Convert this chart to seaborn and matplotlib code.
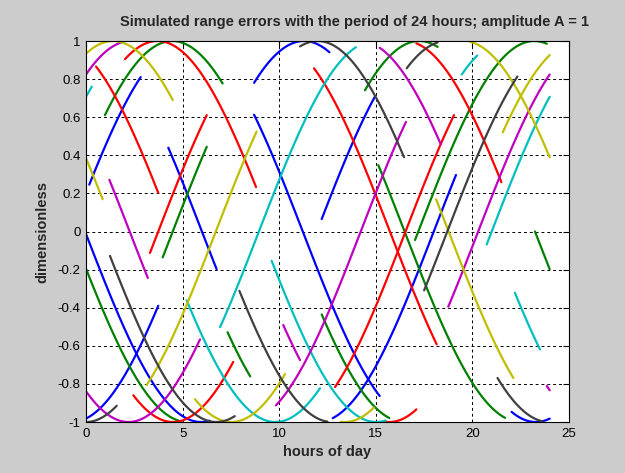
import numpy as np
import pandas as pd
import matplotlib
matplotlib.use("Agg")
import matplotlib.pyplot as plt
import seaborn as sns
from matplotlib.ticker import FuncFormatter

# Range-error model: A * cos(2*pi*(t - t_peak)/PERIOD), drawn over each pass window
PERIOD = 24.0
AMPLITUDE = 1.0

# One entry per pass: colour key, start hour, end hour, hour of the peak
seg_color = [
    "b", "b", "b", "b", "b", "b", "b", "b", "b",
    "g", "g", "g", "g", "g", "g", "g", "g", "g",
    "r", "r", "r", "r", "r", "r", "r", "r",
    "c", "c", "c", "c", "c", "c", "c",
    "m", "m", "m", "m", "m", "m", "m", "m",
    "y", "y", "y", "y", "y", "y", "y", "y",
    "k", "k", "k", "k", "k", "k", "k",
]
seg_start = [
    0.17, 8.70, 4.26, 12.77, 0.00, 12.20, 0.00, 8.70, 22.03,
    0.98, 12.20, 3.97, 15.13, 14.44, 0.00, 23.24, 17.03, 7.33,
    0.52, 12.89, 2.02, 15.50, 3.31, 11.80, 17.10, 2.45,
    0.00, 9.61, 6.94, 22.20, 19.45, 20.74, 5.21,
    0.00, 10.21, 1.21, 9.83, 15.20, 0.00, 23.85, 18.75,
    0.00, 13.20, 0.00, 5.64, 3.14, 18.12, 19.88, 21.57,
    11.08, 0.00, 21.30, 16.60, 1.24, 17.50, 7.94,
]
seg_end = [
    2.83, 15.20, 6.76, 19.15, 6.40, 14.96, 3.74, 12.60, 24.00,
    7.07, 15.70, 6.25, 21.69, 18.20, 4.90, 24.00, 23.85, 8.50,
    3.74, 19.05, 8.80, 17.10, 6.25, 18.15, 21.50, 7.62,
    0.30, 15.50, 13.97, 23.50, 20.25, 24.00, 12.11,
    1.90, 11.08, 3.20, 16.56, 18.36, 5.90, 24.00, 24.00,
    4.49, 14.90, 0.86, 10.30, 8.83, 22.12, 24.00, 24.00,
    16.46, 1.59, 23.60, 18.20, 7.70, 22.33, 12.50,
]
seg_peak = [
    5.22, 5.22, 0.00, 24.00, -6.05, 17.95, 11.27, 11.28, 11.28,
    4.47, 4.48, 10.49, 10.49, 17.25, -6.75, 17.24, 23.20, -0.80,
    -1.48, 22.54, 3.70, 3.70, 9.74, 9.73, 16.50, 16.50,
    3.00, 3.02, 14.95, 14.95, 21.75, 27.00, -2.20,
    2.30, 2.25, -3.74, 20.22, 14.18, 14.20, 14.24, 26.30,
    1.40, 1.40, -4.49, -4.47, 12.72, 12.77, 19.53, 25.48,
    11.99, 12.00, 11.95, 18.67, -5.25, 24.70, 0.73,
]

color_map = {
    "b": (0.0, 0.0, 1.0),
    "g": (0.0, 0.5, 0.0),
    "r": (1.0, 0.0, 0.0),
    "c": (0.0, 0.75, 0.75),
    "m": (0.75, 0.0, 0.75),
    "y": (0.75, 0.75, 0.0),
    "k": (0.25, 0.25, 0.25),
}

x_ticks = [0, 5, 10, 15, 20, 25]
y_ticks = [-1, -0.8, -0.6, -0.4, -0.2, 0, 0.2, 0.4, 0.6, 0.8, 1]

rows = []
for i, (c, t0, t1, tp) in enumerate(zip(seg_color, seg_start, seg_end, seg_peak)):
    t = np.linspace(t0, t1, 80)
    y = AMPLITUDE * np.cos(2 * np.pi * (t - tp) / PERIOD)
    rows.append(pd.DataFrame({"hour": t, "value": y, "seg": i}))
df = pd.concat(rows, ignore_index=True)
palette = {i: color_map[c] for i, c in enumerate(seg_color)}

sns.set_theme(style="white")
plt.rcParams["font.family"] = ["Liberation Sans", "DejaVu Sans"]

bg = (0.8, 0.8, 0.8)
fig = plt.figure(figsize=(6.25, 4.73), dpi=100, facecolor=bg)
ax = fig.add_axes([0.1376, 0.1078, 0.7728, 0.8055])
ax.set_facecolor("white")

sns.lineplot(data=df, x="hour", y="value", hue="seg", units="seg",
             estimator=None, sort=False, palette=palette, legend=False,
             linewidth=1.6, ax=ax)

ax.set_xlim(0, 25)
ax.set_ylim(-1, 1)
ax.set_xticks(x_ticks)
ax.set_yticks(y_ticks)
ax.yaxis.set_major_formatter(FuncFormatter(lambda v, p: "%g" % round(v, 1)))
ax.grid(True, color="black", linestyle=(0, (3, 3)), linewidth=0.7)
ax.set_axisbelow(True)
for s in ax.spines.values():
    s.set_color("black")
    s.set_linewidth(0.8)
ax.tick_params(direction="in", length=4, width=0.8, colors="black",
               labelsize=9.5, top=True, right=True, pad=4)

ax.set_xlabel("hours of day", fontsize=10.5, fontweight="bold", labelpad=4)
ax.set_ylabel("dimensionless", fontsize=10.5, fontweight="bold", labelpad=6)
fig.text(0.567, 0.953,
         "Simulated range errors with the period of 24 hours; amplitude A = 1",
         ha="center", va="center", fontsize=10.5, fontweight="bold")

fig.savefig("out.png", dpi=100, facecolor=bg)
